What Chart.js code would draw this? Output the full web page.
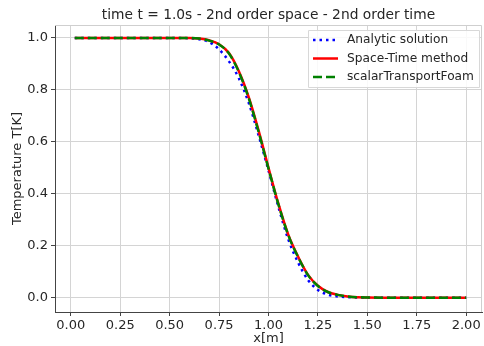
<!DOCTYPE html>
<html>
<head>
<meta charset="utf-8">
<script src="https://cdn.jsdelivr.net/npm/chart.js@4.4.1/dist/chart.umd.min.js"></script>
<style>
  body { margin: 0; background: #fff; }
  #wrap { width: 484px; height: 346px; }
</style>
</head>
<body>
<div id="wrap"><canvas id="tempChart"></canvas></div>
<script>
// Data
const xValues = [0.02, 0.1, 0.2, 0.3, 0.4, 0.5, 0.55, 0.6, 0.65, 0.7, 0.75, 0.8, 0.85, 0.9, 0.95, 1.0,
                 1.05, 1.1, 1.15, 1.2, 1.25, 1.3, 1.35, 1.4, 1.45, 1.5, 1.6, 1.7, 1.8, 1.9, 2.0];
const analytic = [1, 1, 1, 1, 1, 1, 1, 0.999, 0.995, 0.984, 0.956, 0.91, 0.845, 0.75, 0.625, 0.49,
                  0.35, 0.225, 0.135, 0.068, 0.03, 0.012, 0.005, 0.002, 0.001, 0, 0, 0, 0, 0, 0];
const spaceTime = [1, 1, 1, 1, 1, 1, 1, 1, 0.998, 0.991, 0.976, 0.942, 0.872, 0.772, 0.643, 0.5,
                   0.362, 0.243, 0.158, 0.088, 0.046, 0.022, 0.011, 0.005, 0.002, 0.001, 0, 0, 0, 0, 0];
const foam = [1, 1, 1, 1, 1, 1, 1, 1, 0.998, 0.99, 0.975, 0.94, 0.869, 0.768, 0.638, 0.497,
              0.359, 0.241, 0.156, 0.087, 0.045, 0.022, 0.011, 0.005, 0.002, 0.001, 0, 0, 0, 0, 0];

const xTicks = [0, 0.25, 0.5, 0.75, 1.0, 1.25, 1.5, 1.75, 2.0];
const yTicks = [0, 0.2, 0.4, 0.6, 0.8, 1.0];
const seriesNames = ['Analytic solution', 'Space-Time method', 'scalarTransportFoam'];
const chartTitle = 'time t = 1.0s - 2nd order space - 2nd order time';

const toPoints = ys => xValues.map((x, i) => ({ x: x, y: ys[i] }));
const font = 'DejaVu Sans';
const textColor = '#262626';
const gridColor = '#d4d4d4';

const styles = [
  { color: '#0000ff', dash: [2.5, 4] },
  { color: '#ff0000', dash: [] },
  { color: '#008000', dash: [9, 4] }
];

// title centred over the plot area, like matplotlib
const plotTitle = {
  id: 'plotTitle',
  afterDraw(chart) {
    const a = chart.chartArea, c = chart.ctx;
    c.save();
    c.font = '13.8px ' + font;
    c.fillStyle = textColor;
    c.textAlign = 'center';
    c.textBaseline = 'middle';
    c.fillText(chartTitle, (a.left + a.right) / 2, 15);
    c.restore();
  }
};

// legend drawn by hand so the line samples keep their dash patterns
const legendBox = {
  id: 'legendBox',
  afterDraw(chart) {
    const c = chart.ctx;
    const x0 = 308, y0 = 30, w = 171, h = 57;
    c.save();
    c.fillStyle = 'rgba(255,255,255,0.85)';
    c.strokeStyle = '#d8d8d8';
    c.lineWidth = 1;
    c.beginPath();
    c.rect(x0 + 0.5, y0 + 0.5, w, h);
    c.fill();
    c.stroke();
    c.font = '12.2px ' + font;
    c.textBaseline = 'middle';
    seriesNames.forEach((name, i) => {
      const y = 40 + i * 18.5;
      const s = styles[i];
      c.strokeStyle = s.color;
      c.lineWidth = 2.5;
      c.setLineDash(s.dash);
      c.beginPath();
      c.moveTo(313, y);
      c.lineTo(338, y);
      c.stroke();
      c.setLineDash([]);
      c.fillStyle = textColor;
      c.fillText(name, 347, y);
    });
    c.restore();
  }
};

// light frame on top and right like the original axes
const topRightFrame = {
  id: 'topRightFrame',
  afterDatasetsDraw(chart) {
    const a = chart.chartArea, c = chart.ctx;
    c.save();
    c.strokeStyle = '#cfcfcf';
    c.lineWidth = 1;
    c.beginPath();
    c.moveTo(a.left, a.top + 0.5);
    c.lineTo(a.right - 0.5, a.top + 0.5);
    c.lineTo(a.right - 0.5, a.bottom);
    c.stroke();
    c.restore();
  }
};

const ctx = document.getElementById('tempChart').getContext('2d');
const tempChart = new Chart(ctx, {
  type: 'line',
  data: {
    datasets: [analytic, spaceTime, foam].map((ys, i) => ({
      label: seriesNames[i],
      data: toPoints(ys),
      borderColor: styles[i].color,
      borderWidth: 2.5,
      borderDash: styles[i].dash,
      pointRadius: 0,
      fill: false,
      cubicInterpolationMode: 'monotone',
      order: 3 - i
    }))
  },
  options: {
    responsive: true,
    maintainAspectRatio: false,
    animation: false,
    layout: { padding: { left: 0, right: 2, top: 25, bottom: 0 } },
    plugins: {
      legend: { display: false },
      tooltip: { enabled: false },
      title: { display: false }
    },
    scales: {
      x: {
        type: 'linear',
        min: -0.08,
        max: 2.08,
        afterBuildTicks: s => { s.ticks = xTicks.map(v => ({ value: v })); },
        afterFit: s => { s.height = 34; },
        ticks: {
          color: textColor,
          font: { family: font, size: 13 },
          padding: 2,
          maxRotation: 0,
          callback: v => v.toFixed(2)
        },
        grid: { color: gridColor, tickColor: '#444', tickLength: 4 },
        border: { color: '#444', width: 1 },
        title: {
          display: true,
          text: 'x[m]',
          color: textColor,
          font: { family: font, size: 13 },
          padding: { top: 0, bottom: 0 }
        }
      },
      y: {
        type: 'linear',
        min: -0.055,
        max: 1.05,
        afterBuildTicks: s => { s.ticks = yTicks.map(v => ({ value: v })); },
        afterFit: s => { s.width = 55; },
        ticks: {
          color: textColor,
          font: { family: font, size: 13 },
          padding: 3,
          callback: v => v.toFixed(1)
        },
        grid: { color: gridColor, tickColor: '#444', tickLength: 4 },
        border: { color: '#444', width: 1 },
        title: {
          display: true,
          text: 'Temperature T[K]',
          color: textColor,
          font: { family: font, size: 13 },
          padding: { top: 10, bottom: 2 }
        }
      }
    }
  },
  plugins: [topRightFrame, legendBox, plotTitle]
});
</script>
</body>
</html>
